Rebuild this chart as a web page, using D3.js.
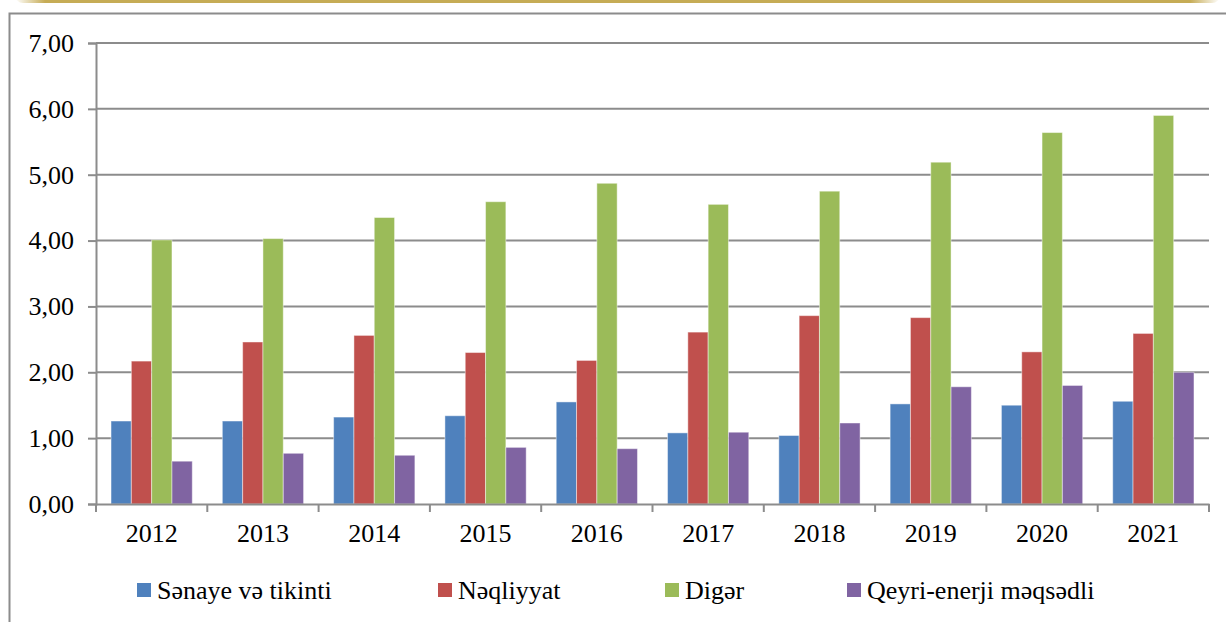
<!DOCTYPE html>
<html>
<head>
<meta charset="utf-8">
<script src="https://cdn.jsdelivr.net/npm/d3@7"></script>
<style>
  body { margin: 0; background: #fff; }
  svg { display: block; }
</style>
</head>
<body>
<svg id="chart" width="1226" height="622"></svg>
<script>
// years on the x axis
let years = ["2012", "2013", "2014", "2015", "2016", "2017", "2018", "2019", "2020", "2021"];

// series names (legend)
let seriesNames = ["Sənaye və tikinti", "Nəqliyyat", "Digər", "Qeyri-enerji məqsədli"];

// values
let senaye = [1.26, 1.26, 1.32, 1.34, 1.55, 1.08, 1.04, 1.52, 1.50, 1.56];
let neqliyyat = [2.17, 2.46, 2.56, 2.30, 2.18, 2.61, 2.86, 2.83, 2.31, 2.59];
let diger = [4.01, 4.03, 4.35, 4.59, 4.87, 4.55, 4.75, 5.19, 5.64, 5.90];
let qeyri = [0.65, 0.77, 0.74, 0.86, 0.84, 1.09, 1.23, 1.78, 1.80, 2.00];

let yTicks = [0, 1, 2, 3, 4, 5, 6, 7];

let colors = ["#4F81BD", "#C0504D", "#9BBB59", "#8064A2"];

let allSeries = [senaye, neqliyyat, diger, qeyri];

let serif = "'Liberation Serif', 'Times New Roman', serif";

// build a table: one row per year
let table = years.map((y, i) => ({year: y, values: allSeries.map(s => s[i])}));

let svg = d3.select("#chart");

// top golden band
let defs = svg.append("defs");
let grad = defs.append("linearGradient").attr("id", "gold");
grad.append("stop").attr("offset", "0%").attr("stop-color", "#fff");
grad.append("stop").attr("offset", "2.5%").attr("stop-color", "#C6AC56");
grad.append("stop").attr("offset", "97.5%").attr("stop-color", "#C6AC56");
grad.append("stop").attr("offset", "100%").attr("stop-color", "#fff");
svg.append("rect")
  .attr("x", 15).attr("y", -12)
  .attr("width", 1205).attr("height", 15)
  .attr("rx", 8)
  .attr("fill", "url(#gold)");

// outer frame (left and top edges visible)
svg.append("path")
  .attr("d", "M9.5,622 V13.5 H1226")
  .attr("fill", "none")
  .attr("stroke", "#8c8c8c")
  .attr("stroke-width", 2);

// plot area
let margin = {top: 43, left: 96, right: 17, bottom: 118},
    width = 1226 - margin.left - margin.right,
    height = 622 - margin.top - margin.bottom;

let g = svg.append("g")
  .attr("transform", "translate(" + margin.left + "," + margin.top + ")");

let x0 = d3.scaleBand()
  .domain(years)
  .range([0, width])
  .padding(0);

let gap = x0.bandwidth() * 0.135;
let x1 = d3.scaleBand()
  .domain(d3.range(seriesNames.length))
  .range([gap, x0.bandwidth() - gap])
  .padding(0);

let y = d3.scaleLinear()
  .domain([0, 7])
  .range([height, 0]);

let fmt = v => d3.format(".2f")(v).replace(".", ",");

// gridlines + y axis
let yAxis = g.append("g")
  .call(d3.axisLeft(y)
    .tickValues(yTicks)
    .tickSize(8)
    .tickPadding(14)
    .tickFormat(fmt));
yAxis.select(".domain").attr("stroke", "#8c8c8c").attr("stroke-width", 2);
yAxis.selectAll(".tick line").attr("stroke", "#8c8c8c").attr("stroke-width", 2);
yAxis.selectAll(".tick text")
  .attr("font-size", 26)
  .attr("fill", "#000")
  .style("font-family", serif);

g.append("g")
  .selectAll("line")
  .data(yTicks.filter(d => d > 0))
  .join("line")
  .attr("x1", 0).attr("x2", width)
  .attr("y1", d => y(d)).attr("y2", d => y(d))
  .attr("stroke", "#8c8c8c")
  .attr("stroke-width", 2);

// bars
g.append("g")
  .selectAll("g")
  .data(table)
  .join("g")
  .attr("transform", d => "translate(" + x0(d.year) + ",0)")
  .selectAll("rect")
  .data(d => d.values.map((v, k) => ({k: k, v: v})))
  .join("rect")
  .attr("x", d => x1(d.k))
  .attr("y", d => y(d.v))
  .attr("width", x1.bandwidth())
  .attr("height", d => height - y(d.v))
  .attr("fill", d => colors[d.k])
  .attr("stroke", "rgba(255,255,255,0.45)")
  .attr("stroke-width", 1);

// x axis
let xAxis = g.append("g")
  .attr("transform", "translate(0," + height + ")")
  .call(d3.axisBottom(x0).tickSize(0).tickPadding(20));
xAxis.select(".domain").attr("stroke", "#8c8c8c").attr("stroke-width", 2);
xAxis.selectAll(".tick text")
  .attr("font-size", 26)
  .attr("fill", "#000")
  .style("font-family", serif);

// x tick marks at category boundaries
g.append("g")
  .selectAll("line")
  .data(years.map(yr => x0(yr)).concat([width]))
  .join("line")
  .attr("x1", d => d).attr("x2", d => d)
  .attr("y1", height).attr("y2", height + 8)
  .attr("stroke", "#8c8c8c")
  .attr("stroke-width", 2);

// legend
let legendX = [137, 438, 665, 847];
let legend = svg.append("g")
  .selectAll("g")
  .data(seriesNames)
  .join("g")
  .attr("transform", (d, i) => "translate(" + legendX[i] + ",583)");
legend.append("rect")
  .attr("width", 14).attr("height", 14)
  .attr("fill", (d, i) => colors[i]);
legend.append("text")
  .attr("x", 20).attr("y", 16)
  .attr("font-size", 26)
  .attr("fill", "#000")
  .style("font-family", serif)
  .text(d => d);
</script>
</body>
</html>
